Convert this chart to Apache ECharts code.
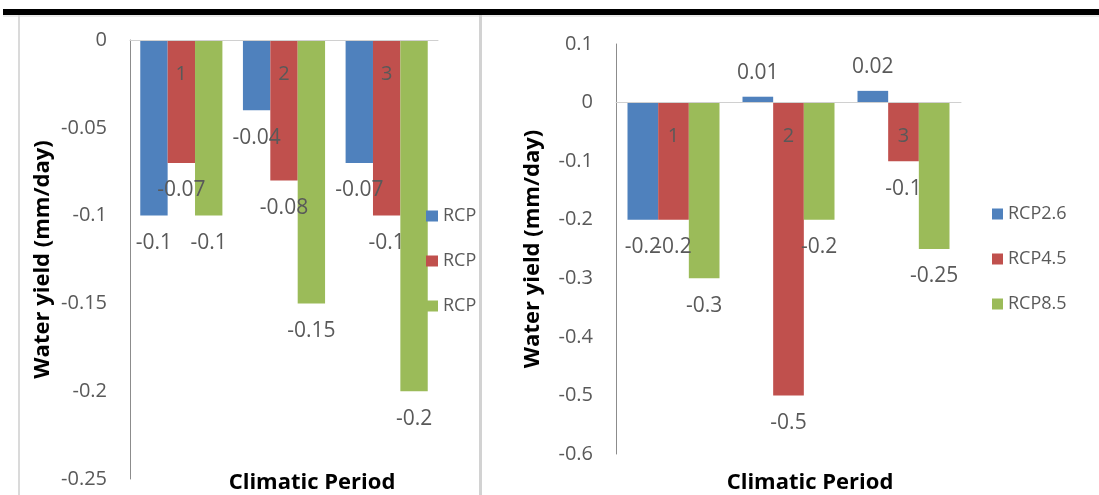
<!DOCTYPE html>
<html>
<head>
<meta charset="utf-8">
<script src="https://cdn.jsdelivr.net/npm/echarts@6/dist/echarts.min.js"></script>
<style>
html,body{margin:0;padding:0;background:#fff;}
#chart{width:1099px;height:495px;}
</style>
</head>
<body>
<div id="chart"></div>
<script>
// ---- data ----
var categories = ['1', '2', '3'];
var seriesNames = ['RCP2.6', 'RCP4.5', 'RCP8.5'];
var seriesColors = ['#4F81BD', '#C0504D', '#9BBB59'];

var leftRCP26 = [-0.1, -0.04, -0.07];
var leftRCP45 = [-0.07, -0.08, -0.1];
var leftRCP85 = [-0.1, -0.15, -0.2];

var rightRCP26 = [-0.2, 0.01, 0.02];
var rightRCP45 = [-0.2, -0.5, -0.1];
var rightRCP85 = [-0.3, -0.2, -0.25];

var leftAxisRange = {min: -0.25, max: 0, interval: 0.05};
var rightAxisRange = {min: -0.6, max: 0.1, interval: 0.1};

var yTitle = 'Water yield (mm/day)';
var xTitle = 'Climatic Period';

// ---- styling / layout ----
var FONT = 'Open Sans';
var GRAY = '#595959';
var leftGrid = {left: 130, top: 40, width: 308, height: 439};
var rightGrid = {left: 616, top: 44, width: 345, height: 410};

function items(arr) {
  return arr.map(function (v) {
    return {
      value: v,
      label: {position: v < 0 ? 'bottom' : 'top', distance: v < 0 ? 17 : 13}
    };
  });
}

function barSeries(name, color, arr, idx) {
  return {
    name: name,
    type: 'bar',
    xAxisIndex: idx,
    yAxisIndex: idx,
    data: items(arr),
    barGap: '0%',
    barCategoryGap: '20%',
    itemStyle: {color: color},
    label: {
      show: true,
      color: GRAY,
      fontFamily: FONT,
      fontSize: 21
    },
    emphasis: {disabled: true},
    animation: false
  };
}

// category axis drawn along the zero line (distance of zero from the top edge of the grid)
function zeroOffset(grid, range) {
  return -grid.height * (range.max - 0) / (range.max - range.min);
}

function xAxisDef(idx, grid, range) {
  return {
    type: 'category',
    gridIndex: idx,
    position: 'top',
    offset: zeroOffset(grid, range),
    data: categories,
    z: 5,
    axisLine: {show: true, onZero: false, lineStyle: {color: '#d0d0d0', width: 1}},
    axisTick: {show: false},
    axisLabel: {inside: true, color: GRAY, fontFamily: FONT, fontSize: 20, margin: 24}
  };
}

function yAxisDef(idx, range, gap) {
  return {
    type: 'value',
    gridIndex: idx,
    min: range.min,
    max: range.max,
    interval: range.interval,
    name: yTitle,
    nameLocation: 'middle',
    nameGap: gap,
    nameTextStyle: {color: '#000', fontFamily: FONT, fontWeight: 'bold', fontSize: 22},
    splitLine: {show: false},
    axisLine: {show: true, lineStyle: {color: '#8c8c8c', width: 1}},
    axisTick: {show: false},
    axisLabel: {color: GRAY, fontFamily: FONT, fontSize: 20, margin: 23}
  };
}

function legendDef(left, top, markerW) {
  return {
    orient: 'vertical',
    left: left,
    top: top,
    padding: 0,
    itemWidth: markerW,
    itemHeight: 11,
    itemGap: 27,
    icon: 'rect',
    data: seriesNames,
    selectedMode: false,
    textStyle: {color: GRAY, fontFamily: FONT, fontSize: 18}
  };
}

var chart = echarts.init(document.getElementById('chart'), null, {renderer: 'canvas'});

var option = {
  backgroundColor: '#ffffff',
  animation: false,
  grid: [
    Object.assign({containLabel: false, outerBoundsMode: 'none'}, leftGrid),
    Object.assign({containLabel: false, outerBoundsMode: 'none'}, rightGrid)
  ],
  xAxis: [xAxisDef(0, leftGrid, leftAxisRange), xAxisDef(1, rightGrid, rightAxisRange)],
  yAxis: [yAxisDef(0, leftAxisRange, 76), yAxisDef(1, rightAxisRange, 72)],
  legend: [legendDef(426, 207, 12), legendDef(992, 205, 11)],
  series: [
    barSeries(seriesNames[0], seriesColors[0], leftRCP26, 0),
    barSeries(seriesNames[1], seriesColors[1], leftRCP45, 0),
    barSeries(seriesNames[2], seriesColors[2], leftRCP85, 0),
    barSeries(seriesNames[0], seriesColors[0], rightRCP26, 1),
    barSeries(seriesNames[1], seriesColors[1], rightRCP45, 1),
    barSeries(seriesNames[2], seriesColors[2], rightRCP85, 1)
  ],
  graphic: [
    {type: 'rect', shape: {x: 3, y: 9, width: 1096, height: 6}, style: {fill: '#000'}, z: 30},
    {type: 'rect', shape: {x: 3, y: 15, width: 1096, height: 2}, style: {fill: '#ebebeb'}, z: 29},
    {type: 'rect', shape: {x: 18, y: 15, width: 2, height: 480}, style: {fill: '#dadada'}, z: 29},
    // the left panel is cropped at the divider: hide its legend text beyond it
    {type: 'rect', shape: {x: 476, y: 195, width: 41, height: 125}, style: {fill: '#ffffff'}, z: 28},
    {type: 'rect', shape: {x: 479, y: 15, width: 3, height: 480}, style: {fill: '#d2d2d2'}, z: 29},
    {type: 'text', x: 312, y: 483, style: {text: xTitle, textAlign: 'center', textVerticalAlign: 'middle', fill: '#000', font: 'bold 22px "Open Sans"'}, z: 29},
    {type: 'text', x: 810, y: 483, style: {text: xTitle, textAlign: 'center', textVerticalAlign: 'middle', fill: '#000', font: 'bold 22px "Open Sans"'}, z: 29}
  ]
};

chart.setOption(option);
</script>
</body>
</html>
